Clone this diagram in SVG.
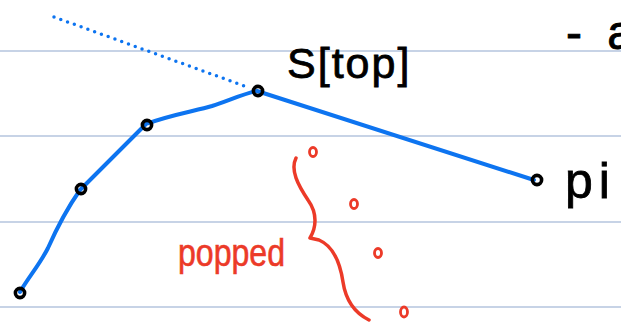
<svg xmlns="http://www.w3.org/2000/svg" width="621" height="327" viewBox="0 0 621 327">
<style>
.rule{stroke:#b4c5de;stroke-width:1.5}
.blue{fill:none;stroke:#0d74f0;stroke-width:4;stroke-linecap:round;stroke-linejoin:round}
.dots{fill:none;stroke:#0d74f0;stroke-width:3.5;stroke-linecap:round;stroke-dasharray:0 7.2}
.pt{fill:none;stroke:#000;stroke-width:3.6}
.red{fill:none;stroke:#ec3a28;stroke-width:3.5;stroke-linecap:round;stroke-linejoin:round}
.rpt{fill:none;stroke:#ec3a28;stroke-width:2.8}
.ink{font-family:"Liberation Sans",Arial,sans-serif;fill:#000;stroke:#000;stroke-width:0.8}
.rink{font-family:"Liberation Sans",Arial,sans-serif;fill:#ec3a28;stroke:#ec3a28;stroke-width:0.6}
</style>
<rect width="621" height="327" fill="#fff"/>
<g id="rules">
<line class="rule" x1="0" y1="51" x2="621" y2="51"/>
<line class="rule" x1="0" y1="136" x2="621" y2="136"/>
<line class="rule" x1="0" y1="222" x2="621" y2="222"/>
<line class="rule" x1="0" y1="307" x2="621" y2="307"/>
</g>
<g id="connectors">
<path class="dots" d="M54,17 L250,88"/>
<path class="blue" d="M20,292 C28,278 40,264 48,248 C56,230 66,210 80,190 L146,124 C170,115 195,111 212,106 C230,100 245,93 257,91 L534,180"/>
</g>
<g id="n1"><circle class="pt" cx="20" cy="293" r="4.6"/></g>
<g id="n2"><circle class="pt" cx="81" cy="189" r="4.6"/></g>
<g id="n3"><circle class="pt" cx="147" cy="125" r="4.6"/></g>
<g id="n4"><circle class="pt" cx="258" cy="91" r="4.6"/></g>
<g id="n5"><circle class="pt" cx="537" cy="180" r="4.6"/></g>
<g id="popped-points">
<ellipse class="rpt" cx="313" cy="152" rx="3.5" ry="4.5"/>
<ellipse class="rpt" cx="354" cy="204" rx="3.5" ry="4.5"/>
<ellipse class="rpt" cx="378" cy="253" rx="3.5" ry="4.5"/>
<ellipse class="rpt" cx="404" cy="312" rx="3.5" ry="5"/>
</g>
<g id="brace">
<path class="red" d="M296,158 C290,170 298,185 308,200 C318,214 316,228 310,238 L319,240 C333,246 340,262 343,282 C346,302 355,313 369,320"/>
</g>
<g id="labels">
<text class="ink" x="287" y="78" font-size="43" letter-spacing="2">S[top]</text>
<text class="ink" x="565" y="198" font-size="50" letter-spacing="6">pi</text>
<text class="ink" x="566" y="49" font-size="48" word-spacing="12">- a</text>
<text class="rink" x="178" y="266" font-size="38" textLength="107" lengthAdjust="spacingAndGlyphs">popped</text>
</g>
</svg>
